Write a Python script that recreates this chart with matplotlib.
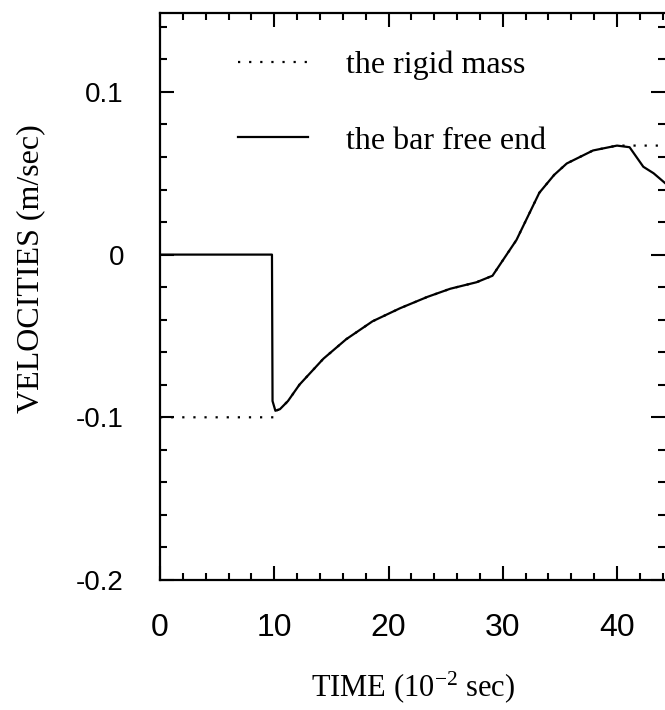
#!/usr/bin/env python3
# velocities of the rigid mass and the bar free end vs time
import numpy as np
import matplotlib
matplotlib.use("Agg")
import matplotlib.pyplot as plt
from matplotlib.ticker import MultipleLocator

# bar free end (solid), time in 10^-2 sec, velocity in m/sec
bar_t = [0, 9.8, 9.85, 10.1, 10.5, 11.2, 12.2, 14.3, 16.3, 18.6, 21.0, 23.4,
         25.4, 27.7, 29.1, 31.2, 33.2, 34.5, 35.6, 37.9, 40.0, 41.1, 42.3, 43.2, 44.2]
bar_v = [0, 0, -0.09, -0.096, -0.095, -0.090, -0.080, -0.064, -0.052, -0.041, -0.033, -0.026,
         -0.021, -0.017, -0.013, 0.009, 0.038, 0.049, 0.056, 0.064, 0.067, 0.066, 0.054, 0.050, 0.044]

# rigid mass (dotted)
mass_t = [0, 10.0, 10.1, 10.5, 11.2, 12.2, 14.3, 16.3, 18.6, 21.0, 23.4,
          25.4, 27.7, 29.1, 31.2, 33.2, 34.5, 35.6, 37.9, 40.0, 41.1, 44.2]
mass_v = [-0.1, -0.1, -0.096, -0.095, -0.090, -0.080, -0.064, -0.052, -0.041, -0.033, -0.026,
          -0.021, -0.017, -0.013, 0.009, 0.038, 0.049, 0.056, 0.064, 0.067, 0.067, 0.067]

xticks = [0, 10, 20, 30, 40]
xtick_labels = ["0", "10", "20", "30", "40"]
yticks = [-0.2, -0.1, 0, 0.1]
ytick_labels = ["-0.2", "-0.1", "0", "0.1"]

serif = "Liberation Serif"
sans = "Liberation Sans"
plt.rcParams["mathtext.fontset"] = "custom"
plt.rcParams["mathtext.rm"] = serif
plt.rcParams["mathtext.it"] = serif

fig = plt.figure(figsize=(6.65, 7.10), dpi=100)
ax = fig.add_axes([0.2406, 0.1831, 0.7594, 0.7986])

ax.plot(bar_t, bar_v, color="black", lw=1.6, label="the bar free end")
ax.plot(mass_t, mass_v, color="black", lw=1.6, linestyle=(0, (1, 4)), label="the rigid mass")

ax.set_xlim(0, 44.2)
ax.set_ylim(-0.2, 0.1485)

ax.xaxis.set_minor_locator(MultipleLocator(2))
ax.yaxis.set_minor_locator(MultipleLocator(0.02))
ax.set_xticks(xticks)
ax.set_xticklabels(xtick_labels, family=sans, fontsize=23)
ax.set_yticks(yticks)
ax.set_yticklabels(ytick_labels, family=sans, fontsize=20)

ax.tick_params(which="both", direction="in", top=True, right=True, width=1.5)
ax.tick_params(which="major", length=10)
ax.tick_params(which="minor", length=5)
ax.tick_params(axis="x", which="major", pad=24)
ax.tick_params(axis="y", which="major", pad=26)

for s in ["left", "bottom", "top"]:
    ax.spines[s].set_linewidth(1.6)
ax.spines["right"].set_visible(False)

ax.set_xlabel("TIME (10$^{\\mathrm{-2}}$ sec)", family=serif, fontsize=22, labelpad=19)
ax.set_ylabel("VELOCITIES (m/sec)", family=serif, fontsize=23)
ax.yaxis.set_label_coords(-0.228, 0.55)

h, l = ax.get_legend_handles_labels()
ax.legend(h[::-1], l[::-1], loc="upper left", bbox_to_anchor=(0.154, 0.934),
          frameon=False, prop={"family": serif, "size": 23},
          borderpad=0, borderaxespad=0,
          handlelength=2.2, handletextpad=1.2, labelspacing=1.45)

fig.savefig("out.png", dpi=100)
